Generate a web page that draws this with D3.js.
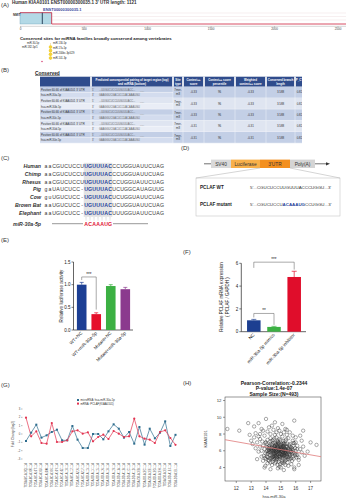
<!DOCTYPE html>
<html><head><meta charset="utf-8">
<script src="https://cdn.jsdelivr.net/npm/d3@7"></script>
<style>body{margin:0;background:#fff}svg{display:block}text{font-family:"Liberation Sans",Arial,sans-serif}</style>
</head><body><svg id="c" width="346" height="500"></svg>
<script>
// ---------------- DATA ----------------
const utrTicks = ["0","500","1000","1500","2000","2500"];
const siteLabels = ["miR-30-5p","miR-182-5p/1","miR-130-5p","miR-17a-5p","miR-200bc-3p/429","miR-101-3p"];

const tableHeader = [["",""],["Predicted consequential pairing of target region (top)","and miRNA (bottom)"],["Site","type"],["Context++","score"],["Context++ score","percentile"],["Weighted","context++ score"],["Conserved branch","length"],["P_CT",""]];
const mirNames = ["hsa-miR-30a-5p","hsa-miR-30b-5p","hsa-miR-30c-5p","hsa-miR-30d-5p","hsa-miR-30e-5p"];
const siteType = ["7mer-m8","7mer-m8","7mer-m8","7mer-m8","7mer-m8"];
const ctxScore = ["-0.33","-0.33","-0.33","-0.31","-0.31"];
const ctxPct = ["96","96","96","96","96"];
const wCtx = ["-0.33","-0.33","-0.33","-0.31","-0.31"];
const branchLen = ["3.588","3.588","3.588","3.588","3.588"];
const pct = ["0.82","0.82","0.82","0.82","0.82"];

const species = ["Human","Chimp","Rhesus","Pig","Cow","Brown Bat","Elephant"];
const sequences = ["aaCGUCUCCUUGUUUACCCUGGUAUUCUAG","aaCGUCUCCUUGUUUACCCUGGUAUUCUAG","aaCGUCUCCUUGUUUACCCUGGUAUUCUAG","gaUAUCUCC-UGUUUACUCUGGCAUAGUUG","guUGUCUCC-UGUUUACUCUGGUAUUCUAG","aaUGUCUCC-UGUUUACUCUGGUAUUCUAG","aaUGUCUCC-UGUUUACUUUGGUAUUCUAG"];
const seedStart = 10, seedLen = 7;
const mirSeed = "ACAAAUG";

const lucCats = ["WT+NC","WT+miR-30a-5p","Mutant+NC","Mutant+miR-30a-5p"];
const lucVals = [1.0,0.35,0.97,0.90];
const lucErr = [0.05,0.03,0.03,0.04];
const lucTicks = [0,0.5,1.0,1.5];
const lucColors = ["#1c3f94","#e5102b","#3cb043","#8b3a8e"];

const qCats = ["NC","miR-30a-5p mimics","miR-30a-5p inhibitor"];
const qVals = [1.0,0.42,4.8];
const qErr = [0.08,0.05,0.5];
const qTicks = [0,2,4,6];
const qColors = ["#1d3f91","#3cb043","#e00d2b"];

const gSamples = ["TCGA-BC-A10Q-11A","TCGA-BC-A10R-11A","TCGA-BC-A10T-11A","TCGA-BC-A10U-11A","TCGA-BC-A10W-11A","TCGA-BC-A10X-11A","TCGA-BC-A10Y-11A","TCGA-BC-A10Z-11A","TCGA-BC-A110-11A","TCGA-BC-A112-11A","TCGA-BC-A216-11A","TCGA-BC-A217-11A","TCGA-DD-A113-11A","TCGA-DD-A114-11A","TCGA-DD-A115-11A","TCGA-DD-A116-11A","TCGA-DD-A118-11A","TCGA-DD-A119-11A","TCGA-DD-A11A-11A","TCGA-DD-A11B-11A","TCGA-DD-A11C-11A","TCGA-DD-A11D-11A","TCGA-DD-A1EB-11A","TCGA-DD-A1EC-11A","TCGA-DD-A1EE-11A","TCGA-DD-A1EG-11A","TCGA-DD-A1EH-11A","TCGA-DD-A1EI-11A","TCGA-DD-A1EJ-11A","TCGA-DD-A1EL-11A"];
const gMrna = [1.96,-0.28,0.32,-1.08,-1.16,1.32,-0.96,-0.96,-0.76,0.32,0.44,0.04,0.2,-0.88,-0.36,-0.08,-0.6,0.36,0.04,-0.36,-0.28,1.84,-0.28,-0.56,-0.68,-1.08,0.24,0.44,-0.48,-1.3];
const gMir = [-0.84,0.16,1.12,-0.44,-0.16,0.24,0.52,-0.76,-0.76,0.96,-0.68,-1.68,-1.68,0,0,-0.64,0.32,1.16,0.64,-0.44,0.24,-1.16,0.84,-1.28,0.64,-0.52,0.16,1.52,-1.44,-0.1];
const gTicks = [-3,-2,-1,0,1,2,3];

const hXTicks = [12,13,14,15,16,17];
const hYTicks = [4,6,8,10,12];
const regLine = [[11.24,7.32],[17.7,5.29]];
const scatter = [
[11.4,8.6],[12.2,8.4],[12.8,9.3],[13.2,8.9],[13.5,9.3],[13.7,8.6],[14.0,9.8],[14.2,8.8],[14.4,9.0],[14.6,9.4],[14.8,8.7],[15.1,9.2],[15.4,8.5],[15.9,9.6],[16.5,8.4],[16.3,7.8],[17.0,7.0],[17.4,6.7],[16.8,5.9],[16.6,5.4],[16.2,4.3],[15.9,3.8],[15.2,3.7],[14.8,3.9],[14.3,3.8],[13.9,4.0],[13.4,5.0],[13.1,6.8],[12.9,7.9],[13.3,8.1],[13.6,8.0],[14.1,8.3],[14.5,8.5],[14.9,8.4],[15.3,8.6],[15.6,8.2],[15.8,7.8],[16.0,7.6],[16.4,7.2],[13.8,8.4],[14.3,8.0],[14.7,8.2],[15.2,8.2],[13.5,7.7],[13.0,7.2],
[14.2,6.1],[14.3,5.8],[14.4,6.4],[14.5,5.5],[14.6,6.2],[14.7,5.9],[14.8,6.5],[14.9,5.7],[15.0,6.0],[15.1,6.3],[15.2,5.6],[15.3,6.1],[15.4,5.9],[14.25,6.6],[14.35,5.2],[14.45,6.9],[14.55,5.0],[14.65,6.7],[14.75,5.3],[14.85,7.0],[14.95,5.1],[15.05,6.8],[15.15,5.4],[15.25,6.6],[15.35,5.2],[14.1,5.6],[14.15,6.3],[14.3,7.1],[14.4,5.1],[14.5,6.0],[14.6,5.4],[14.7,6.8],[14.8,5.6],[14.9,6.2],[15.0,5.3],[15.1,5.9],[15.2,6.9],[15.3,5.5],[15.4,6.5],[15.5,5.8],[15.5,6.3],[15.6,5.6],[15.6,6.8],[15.7,5.9],[15.7,6.4],[15.8,5.3],[15.8,6.1],[15.9,5.7],[16.0,6.0],[16.1,5.5],[13.9,6.2],[13.95,5.7],[13.8,6.6],[13.85,5.4],[13.7,6.0],[13.75,7.1],[14.0,5.0],[14.05,6.8],[14.2,4.8],[14.3,4.6],[14.45,4.7],[14.6,4.5],[14.7,4.9],[14.85,4.7],[14.95,4.4],[15.1,4.8],[15.2,4.5],[15.35,4.9],[15.45,4.6],[15.6,5.0],[15.75,4.8],[14.9,4.1],[15.0,4.0],[15.3,4.3],[14.4,4.3],[14.1,4.5],[13.95,4.2],[15.5,4.2],[15.7,4.4],[15.9,4.0],[16.2,4.9],[14.3,7.5],[14.5,7.3],[14.7,7.6],[14.9,7.4],[15.1,7.7],[15.3,7.2],[15.5,7.5],[14.1,7.3],[13.9,7.8],[14.6,7.9],[15.0,8.0],[15.4,7.9],[15.8,7.2],[16.0,7.0],[16.1,6.6],[16.3,6.2],[16.4,5.8],[16.2,5.2],[16.5,6.5],[14.0,7.0],[13.6,6.5],[13.5,5.9],[13.4,7.0],[13.6,7.4],[13.3,6.3],[13.2,7.6],[13.7,5.3],[13.8,4.8],[14.05,5.3],[14.15,4.9],[14.25,5.5],[14.35,6.0],[14.55,6.5],[14.65,5.7],[14.75,6.3],[14.8,7.2],[14.95,6.6],[15.05,5.6],[15.15,6.1],[15.25,5.0],[15.45,6.0],[15.55,5.2],[15.65,6.1],[15.85,6.6],[15.95,6.3],[16.05,5.2],[14.45,5.8],[14.55,6.2],[14.65,6.0],[14.75,5.5],[14.85,6.1],[14.95,5.9],[15.05,6.2],[15.15,5.7],[15.25,6.3],[15.35,5.8],[14.5,5.3],[14.6,6.6],[14.7,5.2],[14.8,6.9],[14.9,5.4],[15.0,6.7],[15.1,5.2],[15.2,6.4],[15.3,6.8],[14.4,6.7],[14.2,5.9],[14.3,6.3],[14.1,6.0],[15.4,5.4],[15.6,6.5],[15.7,5.1],[15.8,5.8],[15.9,6.9],[16.0,5.6],[16.1,6.2],
[14.52,5.62],[14.68,6.12],[14.82,5.82],[14.98,6.42],[15.12,5.52],[15.28,5.92],[14.62,6.92],[14.78,6.02],[14.92,5.62],[15.08,6.52],[14.38,5.42],[14.48,6.32],[15.18,6.72],[15.32,6.22],[15.42,5.62],[14.58,5.92],[14.72,6.52],[14.88,5.32],[15.02,5.82],[15.22,6.12],[14.28,5.92],[14.18,6.52],[15.52,6.12],[15.62,5.42],[14.88,6.82],[14.62,5.12],[15.12,4.62],[14.78,4.32],[15.48,5.02],[14.42,7.22],
[14.56,6.44],[14.66,5.36],[14.76,6.74],[14.86,5.96],[14.96,6.26],[15.06,5.46],[15.16,6.86],[15.26,5.76],[15.36,6.46],[15.46,5.26],[14.36,6.16],[14.26,5.06],[14.16,5.76],[14.06,6.46],[13.96,6.96],[15.56,6.66],[15.66,5.86],[15.76,6.26],[15.86,5.06],[15.96,5.46],[14.46,4.96],[14.66,4.66],[14.86,4.96],[15.06,4.56],[15.26,4.76],[14.56,7.46],[14.76,7.06],[14.96,7.26],[15.16,7.16],[15.36,7.36],[14.46,5.26],[14.54,5.74],[14.64,6.34],[14.74,5.04],[14.84,6.34],[14.94,5.24],[15.04,6.04],[15.14,6.54],[15.24,5.34],[15.34,6.04],[14.32,6.82],[14.22,6.32],[14.12,5.22],[14.02,5.92],[13.92,5.12],[15.44,6.84],[15.54,5.54],[15.64,6.24],[15.74,5.64],[15.84,6.94],[14.52,6.08],[14.72,5.78],[14.92,6.08],[15.12,5.88],[15.32,5.68],[14.42,5.98],[14.62,5.58],[14.82,6.28],[15.02,6.38],[15.22,5.48]
];

// ---------------- DRAW ----------------
const svg = d3.select("#c");
const T = (g,x,y,s,o={}) => {
  const t = g.append("text").attr("x",x).attr("y",y).text(s)
    .attr("font-size",o.fs||5).attr("fill",o.fill||"#222");
  if(o.anchor) t.attr("text-anchor",o.anchor);
  if(o.bold) t.attr("font-weight","bold");
  if(o.italic) t.attr("font-style","italic");
  if(o.rot!==undefined) t.attr("transform",`rotate(${o.rot},${x},${y})`);
  return t;
};

// Panel labels
[["(A)",1,7],["(B)",1,72],["(C)",1,160],["(D)",181,150],["(E)",1,242],["(F)",183,254],["(G)",1,387],["(H)",183,385]]
  .forEach(d=>T(svg,d[1],d[2],d[0],{fs:6,fill:"#333"}));

// ---- Panel A ----
const gA = svg.append("g");
T(gA,12,4.2,"Human KIAA0101 ENST00000300035.1 3' UTR length: 1121",{fs:4.5,bold:true,fill:"#333"});
const xA = d3.scaleLinear().domain([0,utrTicks.length-1]).range([20.7,338]);
[13,16.5,20].forEach(y=>gA.append("line").attr("x1",52).attr("x2",346).attr("y1",y).attr("y2",y).attr("stroke","#f1e4e6").attr("stroke-width",0.6));
gA.append("rect").attr("x",20).attr("y",12.7).attr("width",31.7).attr("height",11.3).attr("fill","#b3d9e6").attr("stroke","#6b9fb3").attr("stroke-width",0.4);
gA.append("path").attr("d","M20,12.7H51.7V24H346").attr("fill","none").attr("stroke","#d23a52").attr("stroke-width",0.9);
gA.append("line").attr("x1",42.3).attr("x2",42.3).attr("y1",12.7).attr("y2",24).attr("stroke","#1e3550").attr("stroke-width",0.9);
T(gA,43,10.5,"ENST00000300035.1",{fs:4,fill:"#3b4aa0",bold:true});
T(gA,13,15.5,"NM/T",{fs:3.2,fill:"#333",bold:true});
gA.append("line").attr("x1",20).attr("x2",346).attr("y1",26.3).attr("y2",26.3).attr("stroke","#aaa").attr("stroke-width",0.5);
utrTicks.forEach((t,i)=>{
  gA.append("line").attr("x1",xA(i)).attr("x2",xA(i)).attr("y1",26.3).attr("y2",27.6).attr("stroke","#888").attr("stroke-width",0.5);
  T(gA,xA(i),30.3,t,{fs:3,anchor:"middle",fill:"#444"});
});
T(gA,20,40,"Conserved sites for miRNA families broadly conserved among vertebrates",{fs:4.3,bold:true,fill:"#222"});
const siteY = d3.scaleLinear().domain([0,3]).range([47,58]);
gA.append("line").attr("x1",50.5).attr("x2",50.5).attr("y1",43).attr("y2",60).attr("stroke","#e8c86a").attr("stroke-width",0.5);
[0,1,2,3].forEach(i=>gA.append("circle").attr("cx",50.5).attr("cy",siteY(i)).attr("r",1.8).attr("fill","#f3d23a"));
T(gA,27,43.5,siteLabels[0],{fs:2.6});
T(gA,22,48,siteLabels[1],{fs:2.6});
T(gA,53,43.5,siteLabels[2],{fs:2.6});
T(gA,53,49,siteLabels[3],{fs:2.6});
T(gA,53,54,siteLabels[4],{fs:2.6});
T(gA,53,59,siteLabels[5],{fs:2.6});
gA.append("circle").attr("cx",42).attr("cy",61.5).attr("r",0.8).attr("fill","#d84a7a");

// ---- Panel B ----
const gB = svg.append("g");
T(gB,35,74.5,"Conserved",{fs:4.8,bold:true,fill:"#222"}).attr("text-decoration","underline");
const colX = [40,91,173,183,204,235,266,295,304];
const hdrTop = 76.7, hdrH = 10, rowsTop = 86.7, rowH = 5.65;
gB.append("defs").append("clipPath").attr("id","tclip").append("rect").attr("x",40).attr("y",70).attr("width",262).attr("height",80);
const tb = gB.append("g").attr("clip-path","url(#tclip)");
tb.append("rect").attr("x",40).attr("y",hdrTop).attr("width",264).attr("height",hdrH).attr("fill","#2f4c8c");
tableHeader.forEach((h,i)=>{
  const cx=(colX[i]+colX[i+1])/2;
  for(let k=1;k<colX.length-1;k++) tb.append("line").attr("x1",colX[k]).attr("x2",colX[k]).attr("y1",hdrTop).attr("y2",hdrTop+hdrH).attr("stroke","#fff").attr("stroke-width",0.4);
  T(tb,cx,hdrTop+4.2,h[0],{fs:2.9,anchor:"middle",fill:"#fff",bold:true});
  T(tb,cx,hdrTop+7.8,h[1],{fs:2.9,anchor:"middle",fill:"#fff",bold:true});
});
mirNames.forEach((m,p)=>{
  const y0 = rowsTop + p*2*rowH;
  const fillA = p%2===0 ? "#c3cfe6" : "#dfe5f1";
  const fillB = p%2===0 ? "#d3dcee" : "#e9edf6";
  tb.append("rect").attr("x",40).attr("y",y0).attr("width",133).attr("height",rowH).attr("fill",fillA);
  tb.append("rect").attr("x",40).attr("y",y0+rowH).attr("width",133).attr("height",rowH).attr("fill",fillB);
  tb.append("rect").attr("x",173).attr("y",y0).attr("width",131).attr("height",2*rowH).attr("fill",fillA);
  tb.append("line").attr("x1",40).attr("x2",304).attr("y1",y0+2*rowH).attr("y2",y0+2*rowH).attr("stroke","#fff").attr("stroke-width",0.5);
  tb.append("line").attr("x1",40).attr("x2",173).attr("y1",y0+rowH).attr("y2",y0+rowH).attr("stroke","#fff").attr("stroke-width",0.3);
  for(let k=1;k<colX.length-1;k++) tb.append("line").attr("x1",colX[k]).attr("x2",colX[k]).attr("y1",y0).attr("y2",y0+2*rowH).attr("stroke","#fff").attr("stroke-width",0.4);
  T(tb,41,y0+3.9,"Position 60-66 of KIAA0101 3' UTR",{fs:2.8,fill:"#333"});
  T(tb,41,y0+rowH+3.9,m,{fs:2.8,fill:"#333"});
  T(tb,92,y0+3.9,"5'",{fs:2.6,fill:"#555"});
  T(tb,99,y0+3.9,"...UUGUCUCCUUGUUUACC...",{fs:2.6,fill:"#666"});
  T(tb,140,y0+5.3,"|||||||",{fs:2.2,fill:"#999"});
  T(tb,92,y0+rowH+3.9,"3'",{fs:2.6,fill:"#555"});
  T(tb,99,y0+rowH+3.9,"GAAGGUCGACUCCUACAAAUGU",{fs:2.6,fill:"#666"});
  const st = siteType[p].split("-");
  T(tb,178,y0+4.6,st[0]+"-",{fs:2.8,anchor:"middle",fill:"#333"});
  T(tb,178,y0+8.2,st[1],{fs:2.8,anchor:"middle",fill:"#333"});
  [ctxScore[p],ctxPct[p],wCtx[p],branchLen[p],pct[p]].forEach((v,j)=>{
    T(tb,(colX[j+3]+colX[j+4])/2,y0+6.6,v,{fs:2.9,anchor:"middle",fill:"#333"});
  });
});

// ---- Panel C ----
const gC = svg.append("g");
const rowY = d3.scaleLinear().domain([0,species.length-1]).range([168,214.8]);
const chX = d3.scaleLinear().domain([0,30]).range([44,164]);
gC.append("rect").attr("x",chX(seedStart)-0.3).attr("y",rowY(0)-5.2).attr("width",chX(seedStart+seedLen)-chX(seedStart)+0.6).attr("height",rowY(6)-rowY(0)+7.2).attr("fill","#e3e3e3");
species.forEach((s,i)=>{
  T(gC,41,rowY(i),s,{fs:5.2,anchor:"end",bold:true,italic:true,fill:"#333"});
  sequences[i].split("").forEach((c,j)=>{
    const seed = j>=seedStart && j<seedStart+seedLen;
    T(gC,chX(j)+2,rowY(i),c,{fs:5.2,anchor:"middle",fill:seed?"#1f3f9a":"#333",bold:seed});
  });
});
for(let j=0;j<seedLen;j++) gC.append("line").attr("x1",chX(seedStart+j)+2).attr("x2",chX(seedStart+j)+2).attr("y1",217.3).attr("y2",220.3).attr("stroke","#888").attr("stroke-width",0.5).attr("stroke-dasharray","0.6,0.6");
T(gC,41,225.5,"miR-30a-5p",{fs:5.2,anchor:"end",bold:true,italic:true,fill:"#333"});
gC.append("line").attr("x1",chX(2)).attr("x2",chX(seedStart)-1).attr("y1",223.7).attr("y2",223.7).attr("stroke","#333").attr("stroke-width",0.5);
gC.append("line").attr("x1",chX(seedStart+seedLen)+1).attr("x2",chX(26)).attr("y1",223.7).attr("y2",223.7).attr("stroke","#333").attr("stroke-width",0.5);
mirSeed.split("").forEach((c,j)=>T(gC,chX(seedStart+j)+2,225.5,c,{fs:5.2,anchor:"middle",bold:true,fill:"#e0102f"}));

// ---- Panel D ----
const gD = svg.append("g");
const dY = 163.8;
const parts = [["SV40",211,231,"#d9d9d9"],["Luciferase",231,260,"#f8b04a"],["3'UTR",260,290,"#f39020"],["Poly(A)",290,315,"#d4d4d4"]];
gD.append("line").attr("x1",204).attr("x2",211).attr("y1",dY).attr("y2",dY).attr("stroke","#333").attr("stroke-width",0.7);
gD.append("line").attr("x1",315).attr("x2",327).attr("y1",dY).attr("y2",dY).attr("stroke","#333").attr("stroke-width",0.7);
gD.append("path").attr("d",`M330,${dY}L326,${dY-1.6}L326,${dY+1.6}Z`).attr("fill","#333");
parts.forEach(p=>{
  gD.append("rect").attr("x",p[1]).attr("y",dY-4.2).attr("width",p[2]-p[1]).attr("height",8.4).attr("fill",p[3]);
  T(gD,(p[1]+p[2])/2,dY+1.8,p[0],{fs:4.8,anchor:"middle",fill:"#333"});
});
gD.append("line").attr("x1",260).attr("x2",196).attr("y1",dY+4.2).attr("y2",178).attr("stroke","#aaa").attr("stroke-width",0.5);
gD.append("line").attr("x1",290).attr("x2",340).attr("y1",dY+4.2).attr("y2",178).attr("stroke","#aaa").attr("stroke-width",0.5);
gD.append("rect").attr("x",196).attr("y",178).attr("width",144).attr("height",38).attr("fill","none").attr("stroke","#bbb").attr("stroke-width",0.5);
T(gD,200,189,"PCLAF WT",{fs:4.6,bold:true,fill:"#222"});
T(gD,250,189,"5'...CGUCUCCUUGUUUACCCUGGU...3'",{fs:4.4,fill:"#333"});
T(gD,200,206,"PCLAF mutant",{fs:4.6,bold:true,fill:"#222"});
const mt = T(gD,250,206,"",{fs:4.4,fill:"#333"});
mt.append("tspan").text("5'...CGUCUCCU");
mt.append("tspan").text("ACAAAUG").attr("fill","#1f3f9a").attr("font-weight","bold");
mt.append("tspan").text("CCUGGU...3'");

// ---- Panel E ----
const gE = svg.append("g");
const yE = d3.scaleLinear().domain([0,1.5]).range([330,262]);
const xE = d3.scaleBand().domain(lucCats).range([74,133]).paddingInner(0.34).paddingOuter(0.2);
gE.append("line").attr("x1",73.5).attr("x2",73.5).attr("y1",yE(0)).attr("y2",yE(1.5)).attr("stroke","#222").attr("stroke-width",0.7);
gE.append("line").attr("x1",73.5).attr("x2",133).attr("y1",yE(0)).attr("y2",yE(0)).attr("stroke","#222").attr("stroke-width",0.7);
lucTicks.forEach(t=>{
  gE.append("line").attr("x1",71.5).attr("x2",73.5).attr("y1",yE(t)).attr("y2",yE(t)).attr("stroke","#222").attr("stroke-width",0.6);
  T(gE,70.5,yE(t)+1.6,d3.format(".1f")(t),{fs:4.5,anchor:"end"});
});
lucCats.forEach((c,i)=>{
  const x=xE(c), w=xE.bandwidth(), cx=x+w/2;
  gE.append("rect").attr("x",x).attr("y",yE(lucVals[i])).attr("width",w).attr("height",yE(0)-yE(lucVals[i])).attr("fill",lucColors[i]);
  gE.append("line").attr("x1",cx).attr("x2",cx).attr("y1",yE(lucVals[i])).attr("y2",yE(lucVals[i]+lucErr[i])).attr("stroke",lucColors[i]).attr("stroke-width",0.7);
  gE.append("line").attr("x1",cx-2).attr("x2",cx+2).attr("y1",yE(lucVals[i]+lucErr[i])).attr("y2",yE(lucVals[i]+lucErr[i])).attr("stroke",lucColors[i]).attr("stroke-width",0.7);
  T(gE,cx+1,333.5,c,{fs:4.5,anchor:"end",rot:-45});
});
{
  const a=xE(lucCats[0])+xE.bandwidth()/2, b=xE(lucCats[1])+xE.bandwidth()/2, y=yE(1.17);
  gE.append("path").attr("d",`M${a},${yE(1.1)}V${y}H${b}V${yE(0.45)}`).attr("fill","none").attr("stroke","#555").attr("stroke-width",0.5);
  T(gE,(a+b)/2,y-1.2,"***",{fs:4.5,anchor:"middle"});
}
T(gE,63,296,"Relative luciferase activity",{fs:4.6,anchor:"middle",rot:-90});

// ---- Panel F ----
const gF = svg.append("g");
const yF = d3.scaleLinear().domain([0,6]).range([331.7,263.3]);
const xF = d3.scaleBand().domain(qCats).range([242,306]).paddingInner(0.33).paddingOuter(0.25);
gF.append("line").attr("x1",241.3).attr("x2",241.3).attr("y1",yF(0)).attr("y2",yF(6)).attr("stroke","#222").attr("stroke-width",0.7);
gF.append("line").attr("x1",241.3).attr("x2",306).attr("y1",yF(0)).attr("y2",yF(0)).attr("stroke","#222").attr("stroke-width",0.7);
qTicks.forEach(t=>{
  gF.append("line").attr("x1",239.3).attr("x2",241.3).attr("y1",yF(t)).attr("y2",yF(t)).attr("stroke","#222").attr("stroke-width",0.6);
  T(gF,238.3,yF(t)+1.6,t,{fs:4.5,anchor:"end"});
});
qCats.forEach((c,i)=>{
  const x=xF(c), w=xF.bandwidth(), cx=x+w/2;
  gF.append("rect").attr("x",x).attr("y",yF(qVals[i])).attr("width",w).attr("height",yF(0)-yF(qVals[i])).attr("fill",qColors[i]);
  gF.append("line").attr("x1",cx).attr("x2",cx).attr("y1",yF(qVals[i])).attr("y2",yF(qVals[i]+qErr[i])).attr("stroke",qColors[i]).attr("stroke-width",0.7);
  gF.append("line").attr("x1",cx-2.5).attr("x2",cx+2.5).attr("y1",yF(qVals[i]+qErr[i])).attr("y2",yF(qVals[i]+qErr[i])).attr("stroke",qColors[i]).attr("stroke-width",0.7);
  T(gF,cx+1,335,c,{fs:4.5,anchor:"end",rot:-48});
});
{
  const c0=xF(qCats[0])+xF.bandwidth()/2, c1=xF(qCats[1])+xF.bandwidth()/2, c2=xF(qCats[2])+xF.bandwidth()/2;
  gF.append("path").attr("d",`M${c0},${yF(5.6)}V${yF(6.1)}H${c2}V${yF(5.45)}`).attr("fill","none").attr("stroke","#555").attr("stroke-width",0.5);
  T(gF,(c0+c2)/2,yF(6.1)-1.3,"***",{fs:4.5,anchor:"middle"});
  gF.append("path").attr("d",`M${c0},${yF(1.25)}V${yF(1.6)}H${c1}V${yF(0.6)}`).attr("fill","none").attr("stroke","#555").attr("stroke-width",0.5);
  T(gF,(c0+c1)/2,yF(1.6)-1.3,"**",{fs:4.5,anchor:"middle"});
}
T(gF,223,297,"Relative PCLAF mRNA expression",{fs:4.5,anchor:"middle",rot:-90});
T(gF,228.5,297,"( PCLAF / GAPDH )",{fs:4.5,anchor:"middle",rot:-90});

// ---- Panel G ----
const gG = svg.append("g");
const yG = d3.scaleLinear().domain([-3,3]).range([459,409]);
const xG = d3.scalePoint().domain(gSamples).range([26,175.5]);
gTicks.forEach(t=>{
  gG.append("line").attr("x1",21).attr("x2",22.5).attr("y1",yG(t)).attr("y2",yG(t)).attr("stroke","#555").attr("stroke-width",0.4);
  T(gG,20.3,yG(t)+1,t,{fs:2.8,anchor:"end",fill:"#444"});
});
T(gG,14,434,"Fold Change(log2)",{fs:3.2,anchor:"middle",rot:-90,fill:"#333"});
const lineG = d3.line().x((d,i)=>xG(gSamples[i])).y(d=>yG(d));
const colMir="#2e6d8e", colM="#e23350";
gG.append("path").datum(gMir).attr("d",lineG).attr("fill","none").attr("stroke",colMir).attr("stroke-width",0.7);
gG.append("path").datum(gMrna).attr("d",lineG).attr("fill","none").attr("stroke",colM).attr("stroke-width",0.7);
gMir.forEach((v,i)=>gG.append("rect").attr("x",xG(gSamples[i])-1).attr("y",yG(v)-1).attr("width",2).attr("height",2).attr("fill",colMir));
gMrna.forEach((v,i)=>gG.append("circle").attr("cx",xG(gSamples[i])).attr("cy",yG(v)).attr("r",1.1).attr("fill",colM));
gSamples.forEach(s=>T(gG,xG(s)+1,463,s,{fs:2.6,anchor:"end",rot:-90,fill:"#444"}));
gG.append("rect").attr("x",77).attr("y",399).attr("width",2).attr("height",2).attr("fill",colMir);
T(gG,80.5,401,"microRNA: hsa-miR-30a-5p",{fs:2.8,fill:"#333"});
gG.append("rect").attr("x",77).attr("y",402.6).attr("width",2).attr("height",2).attr("fill",colM);
T(gG,80.5,404.6,"mRNA: PCLAF(KIAA0101)",{fs:2.8,fill:"#333"});

// ---- Panel H ----
const gH = svg.append("g");
T(gH,274,384.5,"Pearson-Correlation:-0.2344",{fs:5,anchor:"middle",bold:true,fill:"#222"});
T(gH,274,390,"P-value:1.4e-07",{fs:5,anchor:"middle",bold:true,fill:"#222"});
T(gH,274,395.5,"Sample Size:(N=493)",{fs:5,anchor:"middle",bold:true,fill:"#222"});
const xH = d3.scaleLinear().domain([11.24,17.7]).range([225,321]);
const yH = d3.scaleLinear().domain([2.39,12.42]).range([481,397]);
gH.append("rect").attr("x",225).attr("y",397).attr("width",96).attr("height",84).attr("fill","none").attr("stroke","#333").attr("stroke-width",0.5);
hXTicks.forEach(t=>{
  gH.append("line").attr("x1",xH(t)).attr("x2",xH(t)).attr("y1",481).attr("y2",483).attr("stroke","#333").attr("stroke-width",0.5);
  T(gH,xH(t),489.5,t,{fs:4.5,anchor:"middle",fill:"#333"});
});
hYTicks.forEach(t=>{
  gH.append("line").attr("x1",223).attr("x2",225).attr("y1",yH(t)).attr("y2",yH(t)).attr("stroke","#333").attr("stroke-width",0.5);
  T(gH,221.5,yH(t)+1.5,t,{fs:4.3,anchor:"end",fill:"#333"});
});
T(gH,207,439,"KIAA0101",{fs:3.8,anchor:"middle",rot:-90,fill:"#333"});
T(gH,274,498,"hsa-miR-30a",{fs:4,anchor:"middle",fill:"#333"});
gH.append("g").selectAll("circle").data(scatter).join("circle")
  .attr("cx",d=>xH(d[0])).attr("cy",d=>yH(d[1])).attr("r",1.7)
  .attr("fill","none").attr("stroke","#2a2a2a").attr("stroke-width",0.4);
gH.append("line").attr("x1",xH(regLine[0][0])).attr("y1",yH(regLine[0][1])).attr("x2",xH(regLine[1][0])).attr("y2",yH(regLine[1][1])).attr("stroke","#e07b7b").attr("stroke-width",0.8);
</script></body></html>
